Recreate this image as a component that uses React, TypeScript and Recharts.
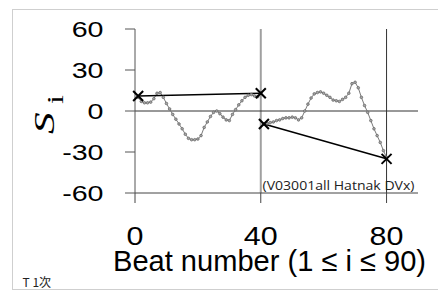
import React from 'react';
import {
  LineChart,
  Line,
  XAxis,
  YAxis,
  ReferenceLine,
} from 'recharts';

// beat index 1..80 (axis runs to 90)
const beats = Array.from({ length: 80 }, (_, k) => k + 1);

// S_i, beats 1-40
const firstHalf = [
  10, 7, 6, 6, 6.5, 9, 13, 13.5, 10, 5.5,
  1.5, -2.5, -6, -9.5, -13, -17, -20, -21, -21, -20.5,
  -18, -12, -8, -4, -1, 0, -2, -4.5, -6.5, -7,
  -2.5, 1, 4.5, 7.5, 10, 11.5, 12, 11, 10.5, 13,
];

// S_i, beats 41-80
const secondHalf = [
  -9.5, -9, -8.5, -8, -7, -6.5, -5.5, -5, -5, -4.5,
  -5, -6.5, -5, 0, 5, 9.5, 12.5, 13.5, 14, 13,
  11.5, 10, 8, 7.5, 7, 8.5, 10, 13, 20, 21,
  17, 10, 4, -1, -7, -13, -18, -23, -29, -34,
];

// endpoints of the two straight "x" segments
const trendFirst: [number, number][] = [[1, 11], [40, 13]];
const trendSecond: [number, number][] = [[41, -9.5], [80, -35]];

const yTicks = [-60, -30, 0, 30, 60];
const xTicks = [0, 40, 80];

const data = beats.map((i) => {
  const t1 = trendFirst.find((p) => p[0] === i);
  const t2 = trendSecond.find((p) => p[0] === i);
  return {
    i,
    a: i <= 40 ? firstHalf[i - 1] : null,
    b: i > 40 ? secondHalf[i - 41] : null,
    c: t1 ? t1[1] : null,
    d: t2 ? t2[1] : null,
  };
});

const CrossDot = (props: any) => {
  const { cx, cy, value } = props;
  if (value == null || cx == null) return null;
  const s = 5;
  return (
    <g>
      <line x1={cx - s} y1={cy - s} x2={cx + s} y2={cy + s} stroke="#000" strokeWidth={2} />
      <line x1={cx - s} y1={cy + s} x2={cx + s} y2={cy - s} stroke="#000" strokeWidth={2} />
    </g>
  );
};

const YTick = ({ y, payload }: any) => (
  <text
    transform={`translate(103.5, ${y + 8}) scale(1.3, 1)`}
    textAnchor="end"
    fontFamily="'Liberation Sans', Arial, sans-serif"
    fontSize={22}
    fill="#000"
  >
    {payload.value}
  </text>
);

const XTick = ({ x, payload }: any) => (
  <text
    transform={`translate(${x}, 245) scale(1.15, 1)`}
    textAnchor="middle"
    fontFamily="'Liberation Sans', Arial, sans-serif"
    fontSize={26.5}
    fill="#000"
  >
    {payload.value}
  </text>
);

const dotStyle = { r: 1.3, fill: '#a8a8a8', stroke: '#6a6a6a', strokeWidth: 0.8 };

export default function App() {
  return (
    <div style={{ position: 'absolute', left: 0, top: 0, width: 438, height: 291, background: '#fff' }}>
      <svg width={438} height={291} style={{ position: 'absolute', left: 0, top: 0 }}>
        <rect x={12.5} y={9.5} width={440} height={280} fill="none" stroke="#cfcfcf" />
      </svg>
      <div style={{ position: 'absolute', left: 0, top: 0 }}>
        <LineChart
          width={438}
          height={291}
          data={data}
          margin={{ top: 29, right: 20, bottom: 0, left: 75 }}
        >
          <XAxis
            dataKey="i"
            type="number"
            domain={[0, 90]}
            ticks={xTicks}
            height={98}
            axisLine={{ stroke: '#444' }}
            tickLine={{ stroke: '#444' }}
            tickSize={10}
            tick={<XTick />}
            interval={0}
          />
          <YAxis
            type="number"
            domain={[-60, 60]}
            ticks={yTicks}
            width={60}
            axisLine={{ stroke: '#555' }}
            tickLine={{ stroke: '#555' }}
            tickSize={10}
            tick={<YTick />}
            interval={0}
          />
          <ReferenceLine x={40} stroke="#a0a0a0" strokeWidth={2} />
          <ReferenceLine x={80} stroke="#333" />
          <ReferenceLine y={0} stroke="#333" />
          <Line
            dataKey="a"
            stroke="#7a7a7a"
            strokeWidth={1}
            dot={dotStyle}
            isAnimationActive={false}
          />
          <Line
            dataKey="b"
            stroke="#7a7a7a"
            strokeWidth={1}
            dot={dotStyle}
            isAnimationActive={false}
          />
          <Line
            dataKey="c"
            stroke="#000"
            strokeWidth={1.5}
            connectNulls
            dot={<CrossDot />}
            isAnimationActive={false}
          />
          <Line
            dataKey="d"
            stroke="#000"
            strokeWidth={1.5}
            connectNulls
            dot={<CrossDot />}
            isAnimationActive={false}
          />
        </LineChart>
      </div>
      <svg width={438} height={291} style={{ position: 'absolute', left: 0, top: 0, pointerEvents: 'none' }}>
        <g transform="translate(54, 134) rotate(-90)">
          <text
            transform="scale(1.5, 1)"
            fontFamily="'Liberation Serif', 'Times New Roman', serif"
            fontStyle="italic"
            fontSize={29}
            fill="#000"
          >
            S
          </text>
        </g>
        <g transform="translate(63, 104) rotate(-90)">
          <text
            transform="scale(1.4, 1)"
            fontFamily="'Liberation Serif', 'Times New Roman', serif"
            fontSize={23}
            fill="#000"
          >
            i
          </text>
        </g>
        <text
          x={113}
          y={270.5}
          textLength={313}
          lengthAdjust="spacingAndGlyphs"
          fontFamily="'Liberation Sans', Arial, sans-serif"
          fontSize={30}
          fill="#000"
        >
          Beat number (1 ≤ i ≤ 90)
        </text>
        <text
          x={262.5}
          y={189.5}
          textLength={152}
          lengthAdjust="spacingAndGlyphs"
          fontFamily="'Open Sans', 'Noto Sans', sans-serif"
          fontSize={13.5}
          fill="#222"
        >
          (V03001all Hatnak DVx)
        </text>
        <text
          x={22.5}
          y={287}
          fontFamily="'Noto Sans CJK JP', sans-serif"
          fontSize={12}
          fill="#222"
        >
          T 1次
        </text>
      </svg>
    </div>
  );
}
